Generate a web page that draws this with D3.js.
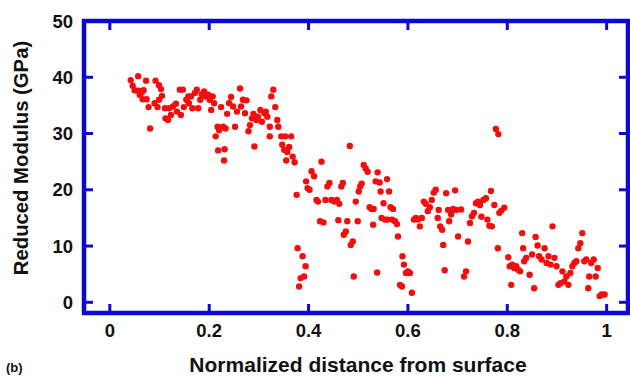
<!DOCTYPE html>
<html>
<head>
<meta charset="utf-8">
<script src="https://cdn.jsdelivr.net/npm/d3@7"></script>
<style>
  body { margin: 0; background: #fff; }
  svg { display: block; font-family: "Liberation Sans", Arial, sans-serif; font-weight: bold; }
</style>
</head>
<body>
<div id="chart"></div>
<script>
// normalized distance from surface (x) and reduced modulus in GPa (y)
let distance = [
  0.042, 0.057, 0.046, 0.050, 0.058, 0.064, 0.068, 0.060, 0.066, 0.074,
  0.073, 0.078, 0.081, 0.092, 0.099, 0.103, 0.099, 0.090, 0.096, 0.105,
  0.111, 0.112, 0.117, 0.123, 0.119, 0.127, 0.133, 0.135, 0.141, 0.147,
  0.143, 0.149, 0.154, 0.158, 0.159, 0.163, 0.166, 0.171, 0.175, 0.178,
  0.182, 0.185, 0.190, 0.193, 0.198, 0.201, 0.204, 0.207, 0.210, 0.213,
  0.217, 0.220, 0.218, 0.224, 0.228, 0.231, 0.230, 0.233, 0.236, 0.240,
  0.244, 0.248, 0.252, 0.256, 0.262, 0.264, 0.268, 0.272, 0.275, 0.279,
  0.282, 0.286, 0.289, 0.291, 0.295, 0.298, 0.303, 0.306, 0.311, 0.314,
  0.317, 0.322, 0.322, 0.325, 0.329, 0.333, 0.337, 0.339, 0.345, 0.347,
  0.353, 0.351, 0.355, 0.357, 0.361, 0.365, 0.368, 0.372, 0.376, 0.378,
  0.381, 0.384, 0.388, 0.391, 0.394, 0.395, 0.398, 0.402, 0.406, 0.411,
  0.416, 0.419, 0.423, 0.426, 0.430, 0.434, 0.438, 0.442, 0.446, 0.452,
  0.457, 0.460, 0.462, 0.466, 0.469, 0.471, 0.475, 0.478, 0.483, 0.485,
  0.489, 0.491, 0.495, 0.499, 0.501, 0.504, 0.507, 0.511, 0.515, 0.519,
  0.523, 0.527, 0.530, 0.531, 0.535, 0.538, 0.539, 0.543, 0.545, 0.547,
  0.551, 0.554, 0.558, 0.559, 0.562, 0.565, 0.568, 0.570, 0.574, 0.578,
  0.580, 0.584, 0.588, 0.589, 0.592, 0.596, 0.600, 0.604, 0.608, 0.612,
  0.616, 0.620, 0.624, 0.628, 0.632, 0.636, 0.640, 0.644, 0.648, 0.652,
  0.656, 0.660, 0.662, 0.665, 0.669, 0.671, 0.674, 0.677, 0.681, 0.683,
  0.687, 0.691, 0.695, 0.697, 0.701, 0.707, 0.713, 0.717, 0.721, 0.725,
  0.729, 0.733, 0.737, 0.741, 0.745, 0.748, 0.752, 0.757, 0.760, 0.764,
  0.767, 0.769, 0.774, 0.777, 0.782, 0.781, 0.784, 0.788, 0.794, 0.802,
  0.805, 0.808, 0.810, 0.814, 0.818, 0.822, 0.826, 0.830, 0.832, 0.834,
  0.838, 0.845, 0.850, 0.854, 0.857, 0.861, 0.864, 0.869, 0.875, 0.879,
  0.883, 0.887, 0.891, 0.895, 0.899, 0.903, 0.907, 0.911, 0.915, 0.919,
  0.923, 0.927, 0.931, 0.935, 0.939, 0.943, 0.947, 0.951, 0.955, 0.959,
  0.963, 0.965, 0.969, 0.974, 0.978, 0.982, 0.986, 0.990, 0.996
];
let modulus = [
  39.5, 40.2, 38.5, 37.7, 37.6, 37.3, 37.7, 36.9, 36.1, 36.1,
  39.4, 34.7, 30.9, 39.4, 38.6, 37.9, 36.0, 35.4, 34.7, 36.7,
  34.5, 32.7, 32.4, 33.3, 34.5, 34.8, 35.3, 33.9, 37.8, 37.8,
  33.3, 34.7, 36.0, 36.6, 35.4, 36.6, 34.5, 37.2, 37.8, 34.5,
  36.0, 37.0, 37.5, 36.6, 36.9, 36.0, 34.2, 36.6, 35.4, 29.5,
  31.2, 30.6, 27.0, 34.7, 31.2, 27.2, 25.2, 30.9, 33.5, 35.4,
  36.5, 34.8, 31.2, 33.9, 38.0, 34.8, 36.0, 33.6, 35.9, 30.4,
  31.5, 32.7, 33.5, 27.7, 32.4, 33.0, 34.2, 32.1, 33.6, 33.9,
  33.0, 29.5, 31.2, 36.6, 37.8, 34.7, 32.4, 31.2, 29.5, 28.0,
  29.5, 27.1, 25.2, 26.7, 27.6, 29.5, 25.9, 24.9, 19.1, 9.6,
  2.8, 4.3, 8.2, 4.6, 6.4, 21.5, 20.3, 20.0, 23.3, 22.4,
  18.2, 17.9, 14.4, 25.0, 14.2, 18.2, 20.6, 21.2, 18.2, 17.9,
  18.2, 14.6, 17.5, 20.6, 21.2, 12.0, 12.6, 14.4, 27.8, 10.2,
  10.8, 4.6, 17.9, 14.4, 19.7, 20.6, 21.1, 24.4, 23.8, 23.2,
  16.9, 16.6, 13.8, 16.6, 21.5, 5.3, 23.1, 21.3, 19.7, 15.0,
  17.6, 14.7, 21.9, 14.7, 19.7, 16.9, 14.7, 16.6, 14.4, 13.9,
  11.7, 3.1, 2.8, 8.2, 6.7, 5.2, 5.5, 5.2, 1.7, 14.7,
  15.0, 14.7, 13.5, 15.0, 17.9, 17.5, 16.2, 16.9, 18.2, 19.5,
  20.0, 15.0, 16.4, 13.5, 12.9, 10.2, 5.7, 19.4, 16.4, 14.4,
  15.6, 16.6, 19.9, 16.4, 11.7, 16.5, 4.6, 5.5, 10.8, 14.1,
  15.3, 15.9, 17.6, 17.9, 17.3, 15.2, 18.2, 18.5, 14.7, 13.6,
  19.8, 13.5, 17.3, 30.8, 29.9, 9.6, 15.9, 16.3, 16.8, 8.0,
  6.4, 3.1, 6.7, 6.1, 6.4, 5.8, 5.5, 12.3, 9.6, 7.3,
  7.9, 4.9, 8.5, 2.5, 11.6, 10.1, 8.2, 7.6, 9.6, 7.0,
  8.2, 6.7, 13.5, 7.9, 6.4, 3.1, 3.4, 5.5, 3.7, 4.6,
  3.1, 5.2, 6.4, 7.0, 7.3, 9.6, 10.5, 12.3, 7.3, 7.6,
  2.5, 4.6, 7.0, 7.6, 4.6, 6.1, 1.1, 1.4, 1.4
];
let xTicks = [0, 0.2, 0.4, 0.6, 0.8, 1];
let xTickLabels = ["0", "0.2", "0.4", "0.6", "0.8", "1"];
let yTicks = [0, 10, 20, 30, 40, 50];

let points = distance.map(function (d, i) { return {x: d, y: modulus[i]}; });

let width = 630, height = 377;
let blue = "#0a0ad2";

let svg = d3.select("#chart").append("svg")
    .attr("width", width)
    .attr("height", height);

let x = d3.scaleLinear().domain([-0.052, 1.043]).range([84, 628]);
let y = d3.scaleLinear().domain([-1.9, 50]).range([313, 21]);

// dots
svg.append("g")
    .selectAll("circle")
    .data(points)
    .enter()
    .append("circle")
    .attr("cx", function (d) { return x(d.x); })
    .attr("cy", function (d) { return y(d.y); })
    .attr("r", 3.2)
    .attr("fill", "#f50d0d");

// inward ticks on all four sides
let tickLen = 9;
let frame = svg.append("g").attr("stroke", blue).attr("stroke-width", 3);

frame.selectAll("line.xb").data(xTicks).enter().append("line")
    .attr("x1", function (d) { return x(d); }).attr("x2", function (d) { return x(d); })
    .attr("y1", y.range()[0]).attr("y2", y.range()[0] - tickLen);
frame.selectAll("line.xt").data(xTicks).enter().append("line")
    .attr("x1", function (d) { return x(d); }).attr("x2", function (d) { return x(d); })
    .attr("y1", y.range()[1]).attr("y2", y.range()[1] + tickLen);
frame.selectAll("line.yl").data(yTicks.slice(0, 5)).enter().append("line")
    .attr("y1", function (d) { return y(d); }).attr("y2", function (d) { return y(d); })
    .attr("x1", x.range()[0]).attr("x2", x.range()[0] + tickLen);
frame.selectAll("line.yr").data(yTicks.slice(0, 5)).enter().append("line")
    .attr("y1", function (d) { return y(d); }).attr("y2", function (d) { return y(d); })
    .attr("x1", x.range()[1]).attr("x2", x.range()[1] - tickLen);

// frame
svg.append("rect")
    .attr("x", x.range()[0]).attr("y", y.range()[1])
    .attr("width", x.range()[1] - x.range()[0])
    .attr("height", y.range()[0] - y.range()[1])
    .attr("fill", "none")
    .attr("stroke", blue)
    .attr("stroke-width", 4.5);

// tick labels
svg.append("g").selectAll("text")
    .data(xTicks)
    .enter().append("text")
    .attr("x", function (d) { return x(d); })
    .attr("y", 337)
    .attr("text-anchor", "middle")
    .attr("font-size", 18.5)
    .attr("fill", "#111")
    .text(function (d, i) { return xTickLabels[i]; });

svg.append("g").selectAll("text")
    .data(yTicks)
    .enter().append("text")
    .attr("x", 73)
    .attr("y", function (d) { return y(d) + 6.5; })
    .attr("text-anchor", "end")
    .attr("font-size", 18.5)
    .attr("fill", "#111")
    .text(function (d) { return d; });

// axis titles
svg.append("text")
    .attr("x", 358).attr("y", 372)
    .attr("text-anchor", "middle")
    .attr("font-size", 21)
    .attr("fill", "#111")
    .text("Normalized distance from surface");

svg.append("text")
    .attr("transform", "translate(28,158) rotate(-90)")
    .attr("text-anchor", "middle")
    .attr("font-size", 20.3)
    .attr("fill", "#111")
    .text("Reduced Modulus (GPa)");

svg.append("text")
    .attr("x", 6).attr("y", 372)
    .attr("font-size", 13)
    .attr("fill", "#111")
    .text("(b)");
</script>
</body>
</html>
